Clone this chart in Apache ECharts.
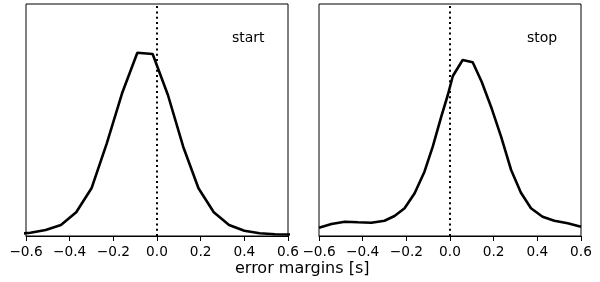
<!DOCTYPE html>
<html>
<head>
<meta charset="utf-8">
<script src="https://cdn.jsdelivr.net/npm/echarts@6/dist/echarts.min.js"></script>
<style>
  html, body { margin: 0; padding: 0; background: #fff; }
  #chart { width: 600px; height: 282px; }
</style>
</head>
<body>
<div id="chart"></div>
<script>
// x ticks shared by both panels
var xTicks = [-0.6, -0.4, -0.2, 0.0, 0.2, 0.4, 0.6]

// start error distribution
var startX = [-0.65, -0.58, -0.51, -0.44, -0.37, -0.30, -0.23, -0.16, -0.09, -0.02,
  0.05, 0.12, 0.19, 0.26, 0.33, 0.40, 0.47, 0.54, 0.61]
var startY = [1.8, 3.3, 6, 11, 23.7, 47.7, 92.7, 142.7, 183.3, 182,
  141, 89.3, 47.7, 23.7, 11, 5.3, 2.7, 1.7, 1.5]

// stop error distribution
var stopX = [-0.6, -0.543, -0.482, -0.422, -0.36, -0.30, -0.254, -0.208, -0.162, -0.117,
  -0.079, -0.04, -0.01, 0.013, 0.058, 0.104, 0.145, 0.188, 0.234, 0.28,
  0.325, 0.371, 0.424, 0.478, 0.539, 0.6]
var stopY = [8.3, 12, 14.3, 13.7, 13.3, 15.3, 20, 27.7, 42.7, 64.3,
  89.3, 119.3, 141, 160, 176, 173.7, 154.3, 129.3, 99.3, 66,
  43.3, 27.7, 19.3, 15.3, 12.7, 9.3]

var panelNames = ['start', 'stop']
var axisTitle = 'error margins [s]'

function pairs (xs, ys) {
  return xs.map(function (x, i) { return [x, ys[i]] })
}

function xAxisFor (idx) {
  return {
    type: 'value',
    gridIndex: idx,
    min: xTicks[0],
    max: xTicks[xTicks.length - 1],
    interval: 0.2,
    splitLine: { show: false },
    axisLine: { onZero: false, lineStyle: { color: '#000', width: 1 } },
    axisTick: { show: true, length: 5, lineStyle: { color: '#000', width: 1 } },
    axisLabel: {
      color: '#000',
      fontFamily: 'DejaVu Sans',
      fontSize: 13.7,
      margin: 9,
      showMinLabel: true,
      showMaxLabel: true,
      formatter: function (v) { return v.toFixed(1).replace('-', '\u2212') }
    }
  }
}

function yAxisFor (idx) {
  return {
    type: 'value',
    gridIndex: idx,
    min: 0,
    max: 232,
    axisLine: { show: false },
    axisTick: { show: false },
    axisLabel: { show: false },
    splitLine: { show: false }
  }
}

function lineFor (idx, data) {
  return {
    type: 'line',
    xAxisIndex: idx,
    yAxisIndex: idx,
    data: data,
    symbol: 'none',
    clip: true,
    lineStyle: { color: '#000', width: 2.6 },
    markLine: {
      silent: true,
      symbol: 'none',
      label: { show: false },
      lineStyle: { color: '#000', width: 2, type: [2, 3.3] },
      data: [{ xAxis: 0 }]
    }
  }
}

var chart = echarts.init(document.getElementById('chart'))
chart.setOption({
  animation: false,
  grid: [
    { left: 26, top: 4, width: 262, height: 232, show: true, borderColor: '#000', borderWidth: 1 },
    { left: 319, top: 4, width: 262, height: 232, show: true, borderColor: '#000', borderWidth: 1 }
  ],
  xAxis: [xAxisFor(0), xAxisFor(1)],
  yAxis: [yAxisFor(0), yAxisFor(1)],
  series: [
    lineFor(0, pairs(startX, startY)),
    lineFor(1, pairs(stopX, stopY))
  ],
  graphic: [
    { type: 'text', left: 232, top: 31, style: { text: panelNames[0], fill: '#000', font: '14px "DejaVu Sans"' } },
    { type: 'text', left: 527, top: 31, style: { text: panelNames[1], fill: '#000', font: '14px "DejaVu Sans"' } },
    { type: 'text', left: 235, top: 261, style: { text: axisTitle, fill: '#000', font: '16px "DejaVu Sans"' } }
  ]
})
</script>
</body>
</html>
